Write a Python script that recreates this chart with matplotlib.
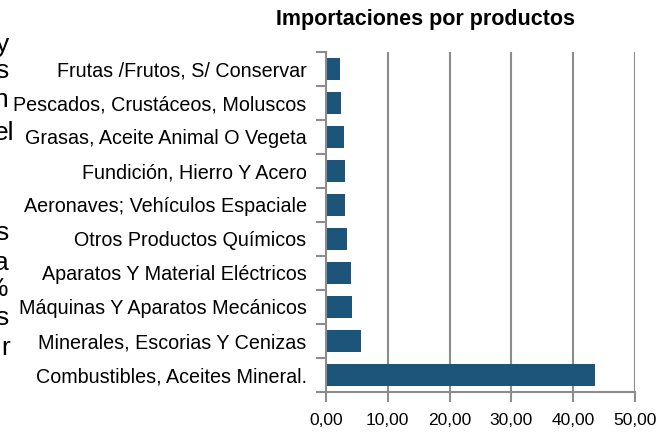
import matplotlib
matplotlib.use("Agg")
import matplotlib.pyplot as plt
import numpy as np

categories = [
    "Combustibles, Aceites Mineral.",
    "Minerales, Escorias Y Cenizas",
    "Máquinas Y Aparatos Mecánicos",
    "Aparatos Y Material Eléctricos",
    "Otros Productos Químicos",
    "Aeronaves; Vehículos Espaciale",
    "Fundición, Hierro Y Acero",
    "Grasas, Aceite Animal O Vegeta",
    "Pescados, Crustáceos, Moluscos",
    "Frutas /Frutos, S/ Conservar",
]
values = [43.5, 5.7, 4.2, 4.0, 3.4, 3.1, 3.1, 2.9, 2.4, 2.3]
xticks = [0, 10, 20, 30, 40, 50]
xtick_labels = ["0,00", "10,00", "20,00", "30,00", "40,00", "50,00"]
title = "Importaciones por productos"
side_fragments = ["y", "s", "n", "el", "s", "a", "%", "s", "r"]

plt.rcParams['font.family'] = ['Liberation Sans', 'DejaVu Sans']

fig = plt.figure(figsize=(6.65, 4.32), dpi=100)
ax = fig.add_axes([326/665, 1-392/432, (635-326)/665, (392-52)/432])

pos = np.arange(len(categories))
ax.barh(pos, values, height=0.64, color="#1C5579", zorder=3)
ax.set_ylim(-0.5, len(categories)-0.5)
ax.set_xlim(0, 50)

grid_c = "#8c8c8c"
ax.set_xticks(xticks)
ax.set_xticklabels(xtick_labels, fontsize=12.5)
for x in xticks[1:]:
    ax.axvline(x, color=grid_c, lw=1.5, zorder=1)

ax.set_yticks(pos)
ax.set_yticklabels(categories, fontsize=14.2)
ax.set_yticks(np.arange(-0.5, len(categories), 1.0), minor=True)
ax.tick_params(axis='y', which='major', length=0, pad=14)
ax.tick_params(axis='y', which='minor', length=7.5, width=1.5, color=grid_c, direction='out')
ax.tick_params(axis='x', which='major', length=7, width=1.5, color=grid_c, pad=8)

for s in ['top', 'right']:
    ax.spines[s].set_visible(False)
for s in ['left', 'bottom']:
    ax.spines[s].set_color(grid_c)
    ax.spines[s].set_linewidth(1.5)
    ax.spines[s].set_zorder(4)

fig.text(426/665, 1-20/432, title, ha='center', va='center', fontsize=15.5, fontweight='bold')

frag_base = [52, 78, 107, 140, 240, 270, 296, 325, 355]
frag_right = [9, 9, 8, 14, 9, 9, 8, 9, 10]
for t, yy, xr in zip(side_fragments, frag_base, frag_right):
    fig.text(xr/665, 1-yy/432, t, ha='right', va='baseline', fontsize=19)

fig.savefig("out.png", dpi=100)
